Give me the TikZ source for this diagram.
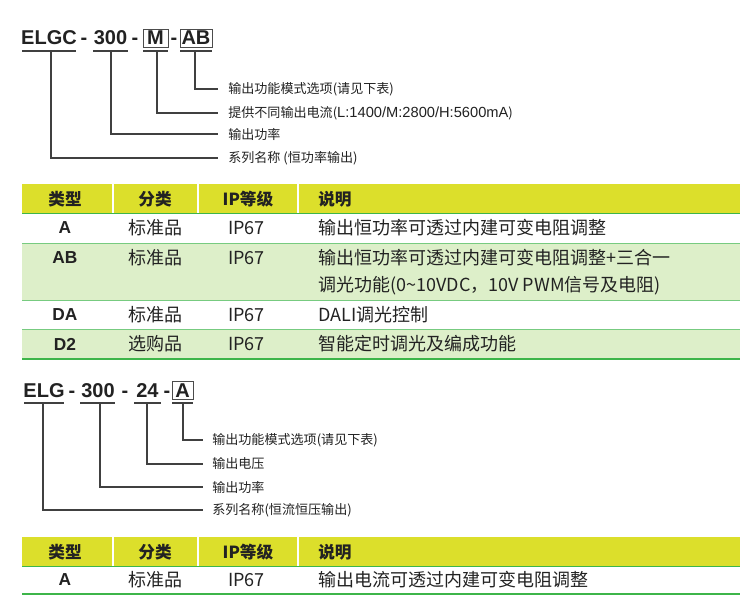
\documentclass[tikz,border=0pt]{standalone}
\usepackage{fontspec}
\setmainfont{Noto Sans CJK SC}
\newfontfamily\latinb{Liberation Sans}
\definecolor{hdr}{HTML}{DCDF2B}
\definecolor{lg}{HTML}{DDEFC9}
\definecolor{gl}{HTML}{3DB54A}
\definecolor{tx}{HTML}{222222}
\begin{document}
\begin{tikzpicture}[x=0.75pt,y=-0.75pt,
  code/.style={font=\latinb\bfseries\fontsize{15}{15}\selectfont,text=tx,anchor=base,inner sep=0pt},
  lbl/.style={font=\fontsize{9.8}{12}\selectfont,text=tx,anchor=west,inner sep=0pt},
  cell/.style={font=\fontsize{13.5}{15}\selectfont,text=tx,inner sep=0pt},
  hcell/.style={font=\bfseries\fontsize{12.5}{15}\selectfont,text=tx,inner sep=0pt},
  lcell/.style={font=\latinb\bfseries\fontsize{13}{15}\selectfont,text=tx,inner sep=0pt},
  ln/.style={draw=black!75,line width=0.8pt},
  bx/.style={draw=black!70,line width=0.6pt}]
\useasboundingbox (0,0) rectangle (750,610);
\fill[white] (0,0) rectangle (750,610);
% ---------- part 1 ----------
\node[code] (c1) at (49,45) {ELGC};
\node[code] (d1) at (84,45) {-};
\node[code] (c2) at (110.5,45) {300};
\node[code] (d2) at (135,45) {-};
\node[code] (c3) at (155.5,45) {M};
\node[code] (d3) at (174,45) {-};
\node[code] (c4) at (196,45) {AB};
\draw[bx] (143,29) rectangle (168,47);
\draw[bx] (180,29) rectangle (212,47);
\foreach \a/\b in {22/76,93/128,143/168,180/212}{\draw[ln] (\a,51)--(\b,51);}
\node[lbl] (t1) at (228,89) {输出功能模式选项(请见下表)};
\node[lbl] (t2) at (228,113) {提供不同输出电流({\latinb\fontsize{11}{12}\selectfont L:1400/M:2800/H:5600mA})};
\node[lbl] (t3) at (228,134) {输出功率};
\node[lbl] (t4) at (228,158) {系列名称 (恒功率输出)};
\draw[ln] (195,51) |- (218,89);
\draw[ln] (157,51) |- (218,113);
\draw[ln] (111,51) |- (218,134);
\draw[ln] (51,51) |- (218,158);
% ---------- table 1 ----------
\fill[hdr] (22,184) rectangle (740,213);
\fill[lg] (22,244) rectangle (740,300);
\fill[lg] (22,330) rectangle (740,358);
\foreach \x in {113,198,298}{\draw[white,line width=1.5pt] (\x,184)--(\x,213);}
\draw[gl,line width=1.2pt] (22,213.5)--(740,213.5);
\foreach \y in {243.5,300.5,329.5}{\draw[gl!70,line width=0.7pt] (22,\y)--(740,\y);}
\draw[gl,line width=1.5pt] (22,358.5)--(740,358.5);
\node[hcell] (h1) at (65,199) {类型};
\node[hcell] (h2) at (155,199) {分类};
\node[hcell] (h3) at (248,199) {IP等级};
\node[hcell,anchor=west] (h4) at (318,199) {说明};
\foreach \y/\a/\b/\c/\n in {228/A/标准品/输出恒功率可透过内建可变电阻调整/1,258/AB/标准品/输出恒功率可透过内建可变电阻调整+三合一/2,315/DA/标准品/DALI调光控制/3,344/D2/选购品/智能定时调光及编成功能/4}{
  \node[lcell] (ra\n) at (65,\y) {\a};
  \node[cell] (rb\n) at (155,\y) {\b};
  \node[cell,anchor=west] (rc\n) at (228,\y) {IP67};
  \node[cell,anchor=west] (rd\n) at (318,\y) {\c};
}
\node[cell,anchor=west] (rd2b) at (318,286) {调光功能(0\textasciitilde10VDC，10V PWM信号及电阻)};
% ---------- part 2 ----------
\node[code] (e1) at (44,397) {ELG};
\node[code] (f1) at (72,397) {-};
\node[code] (e2) at (98,397) {300};
\node[code] (f2) at (125,397) {-};
\node[code] (e3) at (147.5,397) {24};
\node[code] (f3) at (167,397) {-};
\node[code] (e4) at (182.5,397) {A};
\draw[bx] (172,381) rectangle (193,399);
\foreach \a/\b in {24/64,80/115,134/161,172/193}{\draw[ln] (\a,403)--(\b,403);}
\node[lbl] (s1) at (212,440) {输出功能模式选项(请见下表)};
\node[lbl] (s2) at (212,464) {输出电压};
\node[lbl] (s3) at (212,487) {输出功率};
\node[lbl] (s4) at (212,510) {系列名称(恒流恒压输出)};
\draw[ln] (183,403) |- (203,440);
\draw[ln] (147,403) |- (203,464);
\draw[ln] (100,403) |- (203,487);
\draw[ln] (43,403) |- (203,510);
% ---------- table 2 ----------
\fill[hdr] (22,537) rectangle (740,566);
\foreach \x in {113,198,298}{\draw[white,line width=1.5pt] (\x,537)--(\x,566);}
\draw[gl,line width=1.2pt] (22,566.5)--(740,566.5);
\draw[gl,line width=1.5pt] (22,593.5)--(740,593.5);
\node[hcell] (g1) at (65,552) {类型};
\node[hcell] (g2) at (155,552) {分类};
\node[hcell] (g3) at (248,552) {IP等级};
\node[hcell,anchor=west] (g4) at (318,552) {说明};
\node[lcell] (q1) at (65,580) {A};
\node[cell] (q2) at (155,580) {标准品};
\node[cell,anchor=west] (q3) at (228,580) {IP67};
\node[cell,anchor=west] (q4) at (318,580) {输出电流可透过内建可变电阻调整};
\end{tikzpicture}
\end{document}
